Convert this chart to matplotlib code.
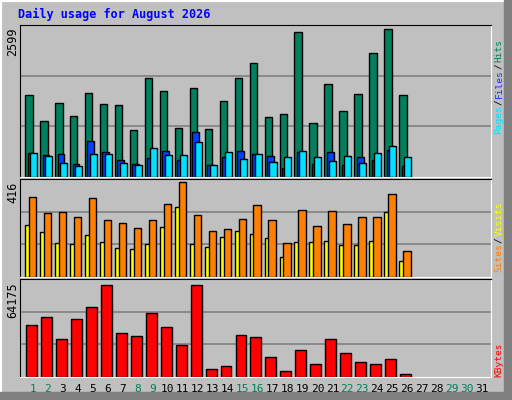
import numpy as np
import matplotlib.pyplot as plt
from matplotlib.patches import Rectangle

days = list(range(1, 32))
hits = [1440, 983, 1300, 1071, 1475, 1282, 1264, 825, 1739, 1510, 860, 1563, 843,
        1335, 1739, 2002, 1054, 1106, 2546, 948, 1633, 1159, 1458, 2178, 2599, 1440]
files = [421, 386, 404, 228, 632, 439, 299, 228, 334, 457, 299, 790, 211,
         351, 457, 404, 369, 158, 439, 228, 439, 211, 351, 299, 474, 193]
pages = [421, 369, 246, 193, 404, 404, 246, 211, 509, 386, 386, 615, 211,
         439, 316, 404, 263, 351, 457, 351, 281, 369, 246, 421, 544, 351]
visits = [351, 279, 283, 261, 347, 252, 238, 216, 252, 319, 416, 270, 202,
          211, 256, 315, 252, 148, 292, 225, 288, 234, 261, 265, 365, 112]
sites = [229, 197, 148, 143, 184, 152, 125, 121, 143, 220, 306, 143, 130,
         175, 202, 188, 170, 89, 152, 152, 157, 139, 139, 157, 283, 71]
kbytes = [36070, 41690, 26230, 40290, 48720, 64175, 30450, 28340, 44500, 34660,
          22020, 64175, 5860, 7960, 29040, 27640, 14290, 4450, 18500, 9370,
          26230, 17100, 10770, 9370, 12880, 2340]
weekend = [1, 2, 8, 9, 15, 16, 22, 23, 29, 30]

W, H = 512, 400
BG = '#C0C0C0'
fig = plt.figure(figsize=(W / 100, H / 100), dpi=100, facecolor=BG)
mono = 'DejaVu Sans Mono'

# outer bevel
fig.patches.append(Rectangle((0, 0), 1, 1, transform=fig.transFigure, fill=False,
                             edgecolor='white', lw=3))
fig.patches.append(Rectangle((504 / W, 0), 8 / W, 1, transform=fig.transFigure,
                             color='#808080'))
fig.patches.append(Rectangle((0, 0), 1, 8 / H, transform=fig.transFigure,
                             color='#808080'))


def panel(top, bottom):
    ax = fig.add_axes([20 / W, 1 - bottom / H, 471 / W, (bottom - top) / H])
    ax.set_facecolor(BG)
    ax.set_xlim(0.13, 31.6)
    ax.set_xticks([])
    ax.set_yticks([])
    for s in ['top', 'left']:
        ax.spines[s].set_color('black')
    for s in ['bottom', 'right']:
        ax.spines[s].set_color('white')
    return ax


def grid(ax, top):
    ax.set_ylim(0, top)
    for f in (1 / 3, 2 / 3):
        ax.axhline(top * f, color='#808080', lw=1.2, zorder=0)


n = len(hits)
x = np.array(days[:n])
kw = dict(edgecolor='black', linewidth=1, align='edge')

ax1 = panel(25, 177)
grid(ax1, 2599 * 152 / 148)
ax1.bar(x - 0.53, hits, 0.5, color='#00805C', **kw)
ax1.bar(x - 0.36, files, 0.45, color='#0040FF', **kw)
ax1.bar(x - 0.2, pages, 0.47, color='#00E0FF', **kw)

ax2 = panel(179, 277)
grid(ax2, 416 * 95 / 92)
ax2.bar(x - 0.53, sites, 0.4, color='#FFFF00', **kw)
ax2.bar(x - 0.27, visits, 0.5, color='#FF8000', **kw)

ax3 = panel(279, 377)
grid(ax3, 64175 * 97 / 91)
ax3.bar(x - 0.47, kbytes, 0.73, color='#FF0000', **kw)

fig.text(18 / W, 1 - 14 / H, 'Daily usage for August 2026', color='#0000FF',
         fontsize=8.5, fontweight='bold', family=mono, va='center')

for label, y in [('2599', 27), ('416', 182), ('64175', 282)]:
    fig.text(13 / W, 1 - y / H, label, rotation=90, fontsize=8.5, family=mono,
             ha='center', va='top')

for d in days:
    fig.text((33 + (d - 1) * 14.97) / W, 1 - 389 / H, str(d), fontsize=8,
             family=mono, ha='center', va='center',
             color='#00805C' if d in weekend else 'black')

FS = 6.8
STEP = 0.6 * FS * 100 / 72


def right_label(parts, y_bottom):
    y = y_bottom
    for txt, col in parts:
        fig.text(499 / W, 1 - y / H, txt, rotation=90, fontsize=FS,
                 family=mono, color=col, ha='center', va='bottom')
        y -= len(txt) * STEP + 1


right_label([('Pages', '#00E0FF'), ('/', 'black'), ('Files', '#0040FF'),
             ('/', 'black'), ('Hits', '#00805C')], 134)
right_label([('Sites', '#FF8000'), ('/', 'black'), ('Visits', '#FFFF00')], 272)
right_label([('KBytes', '#FF0000')], 377)

fig.savefig('out.png', dpi=100, facecolor=BG)
